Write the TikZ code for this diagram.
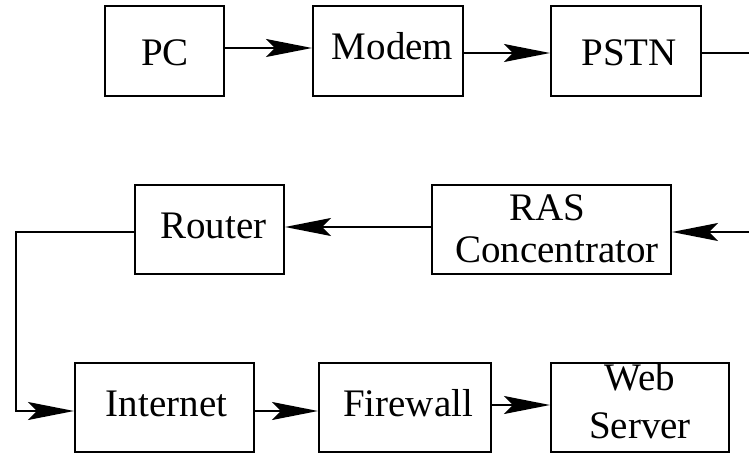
\documentclass[tikz,border=0pt]{standalone}
\usepackage{fontspec}
\setmainfont{Liberation Serif}
\usetikzlibrary{arrows.meta}

\begin{document}
\begin{tikzpicture}[x=1pt, y=-1pt,
  box/.style={draw, line width=2pt, rectangle, inner sep=0pt, minimum height=89pt},
  lbl/.style={anchor=base, inner sep=0pt, font=\fontsize{39}{41}\selectfont},
  conn/.style={line width=1.8pt},
  arr/.style={conn, -{Stealth[length=46pt, width=18pt, inset=9pt]}}]
  \useasboundingbox (0,0) rectangle (749,454);

  % top row
  \node[box, minimum width=119pt, minimum height=90pt] (pc)    at (164.5,51) {};
  \node[box, minimum width=150pt, minimum height=90pt] (modem) at (388,51) {};
  \node[box, minimum width=150pt, minimum height=90pt] (pstn)  at (626,51) {};
  \node[lbl] at (165,66) {PC};
  \node[lbl] at (392.5,60) {Modem};
  \node[lbl] at (629,66) {PSTN};

  % middle row
  \node[box, minimum width=149pt] (router) at (209.5,229.5) {};
  \node[box, minimum width=239pt] (ras)    at (551.5,229.5) {};
  \node[lbl] at (213.5,239) {Router};
  \node[lbl] at (547.5,221) {RAS};
  \node[lbl] at (557,262) {Concentrator};

  % bottom row
  \node[box, minimum width=179pt] (internet) at (164.5,407.5) {};
  \node[box, minimum width=172pt] (firewall) at (405,407.5) {};
  \node[box, minimum width=178pt] (web)      at (640,407.5) {};
  \node[lbl] at (166.5,416) {Internet};
  \node[lbl] at (408,416) {Firewall};
  \node[lbl] at (640,390) {Web};
  \node[lbl] at (640,438) {Server};

  % loose ends at the right margin and the left bend
  \coordinate (outA) at (750,53);
  \coordinate (inB)  at (750,232);
  \coordinate (bend) at (16,0);

  % connectors
  \draw[arr]  (pc.east |- 0,48) -- (modem.west |- 0,48);
  \draw[arr]  (modem.east |- 0,53) -- (pstn.west |- 0,53);
  \draw[conn] (pstn.east |- outA) -- (outA);
  \draw[arr]  (inB) -- (ras.east |- inB);
  \draw[arr]  (ras.west |- 0,227) -- (router.east |- 0,227);
  \draw[arr]  (router.west |- 0,232) -- (bend |- 0,232) -- (bend |- 0,411) -- (internet.west |- 0,411);
  \draw[arr]  (internet.east |- 0,411) -- (firewall.west |- 0,411);
  \draw[arr]  (firewall.east |- 0,405) -- (web.west |- 0,405);
\end{tikzpicture}
\end{document}
